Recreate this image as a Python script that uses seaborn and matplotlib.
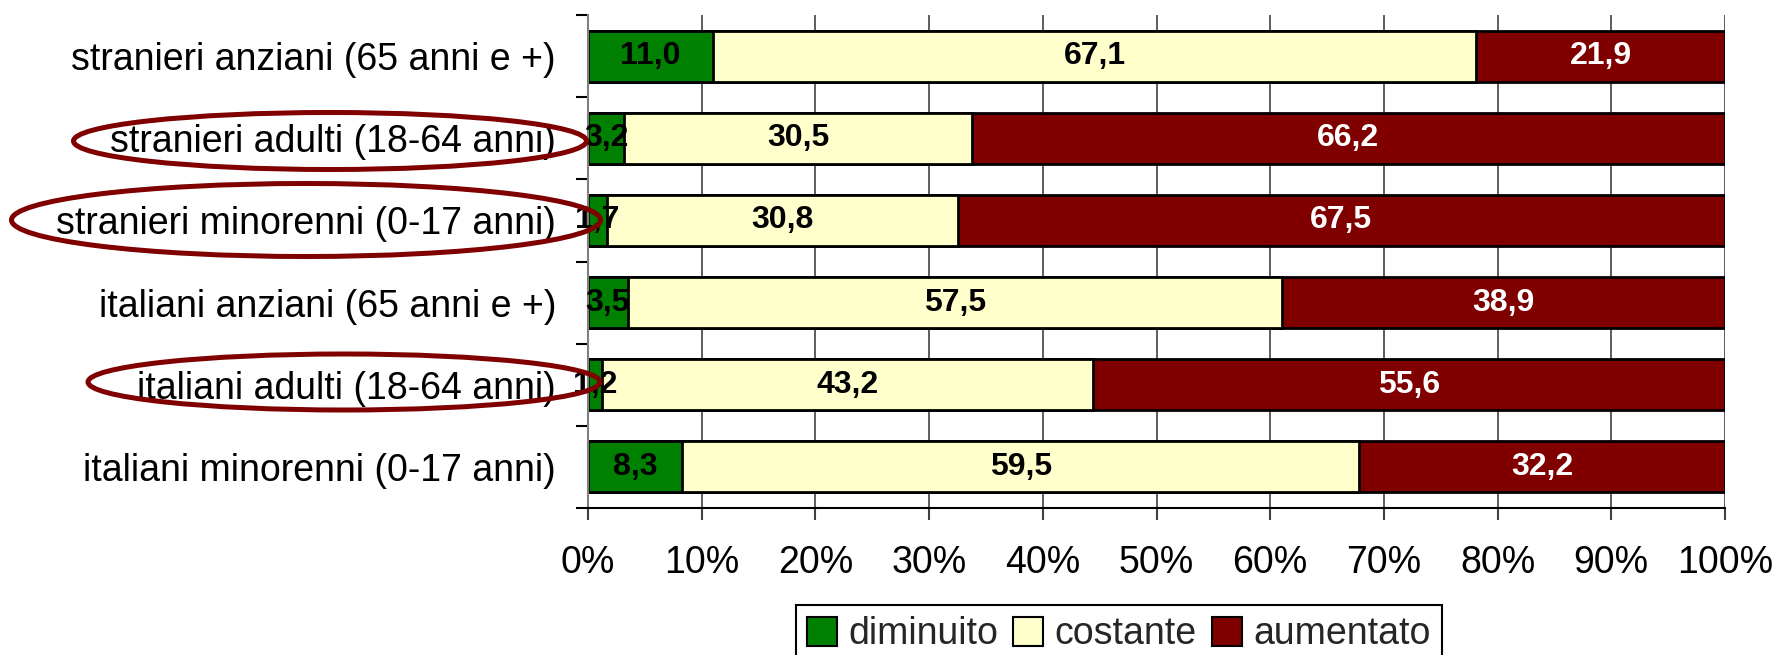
import numpy as np
import pandas as pd
import seaborn as sns
import matplotlib.pyplot as plt
from matplotlib.patches import Ellipse, Patch

# data
categories = ['stranieri anziani (65 anni e +)', 'stranieri adulti (18-64 anni)',
              'stranieri minorenni (0-17 anni)', 'italiani anziani (65 anni e +)',
              'italiani adulti (18-64 anni)', 'italiani minorenni (0-17 anni)']
diminuito = [11.0, 3.2, 1.7, 3.5, 1.2, 8.3]
costante = [67.1, 30.5, 30.8, 57.5, 43.2, 59.5]
aumentato = [21.9, 66.2, 67.5, 38.9, 55.6, 32.2]
series = ['diminuito', 'costante', 'aumentato']
xtick_values = [0, 10, 20, 30, 40, 50, 60, 70, 80, 90, 100]
xtick_labels = ['0%', '10%', '20%', '30%', '40%', '50%', '60%', '70%', '80%', '90%', '100%']

colors = ['#008000', '#FFFFCC', '#800000']
text_colors = ['black', 'black', 'white']

sns.set_style('white')
plt.rcParams['font.family'] = ['Liberation Sans', 'DejaVu Sans']

df = pd.DataFrame({'cat': categories, 'diminuito': diminuito,
                   'costante': costante, 'aumentato': aumentato})
# 100% stacked
tot = df[series].sum(axis=1)
pct = df[series].div(tot, axis=0) * 100
cum = pct.cumsum(axis=1)

fig = plt.figure(figsize=(17.78, 6.55), dpi=100)
ax = fig.add_axes([588 / 1778, 1 - 508 / 655, (1725 - 588) / 1778, 493 / 655])

# draw cumulative totals from the last series backwards so they stack
for s, c in zip(series[::-1], colors[::-1]):
    sns.barplot(x=cum[s], y=df['cat'], orient='h', color=c, saturation=1,
                width=0.62, edgecolor='black', linewidth=2, ax=ax)

# value labels
for i in range(len(categories)):
    for s, tc in zip(series, text_colors):
        center = cum.loc[i, s] - pct.loc[i, s] / 2
        ax.text(center, i, f"{df.loc[i, s]:.1f}".replace('.', ','),
                ha='center', va='center', color=tc, fontsize=23, fontweight='bold')

ax.set_xlim(0, 100)
ax.set_ylim(5.5, -0.5)
ax.set_xticks(xtick_values)
ax.set_xticklabels(xtick_labels)
ax.set_yticks(np.arange(-0.5, 6, 1), minor=True)
ax.set_xlabel('')
ax.set_ylabel('')

ax.set_axisbelow(True)
ax.grid(axis='x', color='#505050', lw=1.3)
ax.grid(axis='y', visible=False)
ax.spines['top'].set_visible(False)
ax.spines['right'].set_visible(False)
ax.spines['left'].set_color('#808080')
ax.spines['left'].set_linewidth(1.5)
ax.spines['bottom'].set_color('black')
ax.spines['bottom'].set_linewidth(1.5)

ax.tick_params(axis='y', which='major', length=0, pad=23, labelsize=27, labelcolor='black')
ax.tick_params(axis='y', which='minor', left=True, length=8.6, width=1.5, color='black')
ax.tick_params(axis='x', bottom=True, length=8.6, width=1.5, color='#404040',
               pad=18, labelsize=27, labelcolor='black')

# red ellipses around some labels
for cx, cy, w, h in [(330, 141, 513, 57), (306, 220, 589, 73), (344, 382, 512, 56)]:
    fig.add_artist(Ellipse((cx / 1778, 1 - cy / 655), w / 1778, h / 655,
                           transform=fig.transFigure, fill=False,
                           edgecolor='#800000', lw=3.6))

# legend
handles = [Patch(facecolor=c, edgecolor='black', lw=1.5) for c in colors]
leg = fig.legend(handles, series, loc='upper left',
                 bbox_to_anchor=(796 / 1778, 1 - 605 / 655), ncol=3, fontsize=27,
                 frameon=True, fancybox=False, edgecolor='black', framealpha=1,
                 handlelength=0.8, handleheight=0.8, handletextpad=0.3,
                 columnspacing=0.4, borderpad=0.3, borderaxespad=0)
leg.get_frame().set_linewidth(1.5)

fig.savefig('out.png', dpi=100)
